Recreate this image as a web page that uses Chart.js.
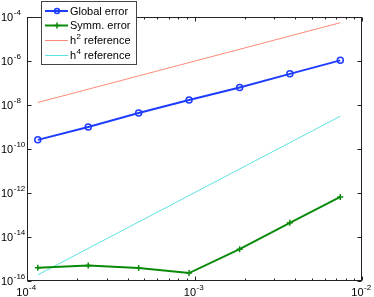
<!DOCTYPE html>
<html>
<head>
<meta charset="utf-8">
<script src="https://cdn.jsdelivr.net/npm/chart.js@4/dist/chart.umd.min.js"></script>
<style>
  html, body { margin: 0; padding: 0; background: #fff; }
  #wrap { width: 374px; height: 297px; position: relative; }
</style>
</head>
<body>
<div id="wrap"><canvas id="chart"></canvas></div>
<script>
// step sizes h and the measured errors (log-log)
const hValues = [1.16e-4, 2.32e-4, 4.64e-4, 9.28e-4, 1.86e-3, 3.71e-3, 7.42e-3];
const globalError = [2.6e-10, 1.0e-9, 4.3e-9, 1.7e-8, 6.3e-8, 2.6e-7, 1.07e-6];
const symmError = [4.0e-16, 5.0e-16, 3.9e-16, 2.3e-16, 2.8e-15, 4.4e-14, 6.6e-13];
// reference slopes, straight lines: only the two ends
const refH = [1.16e-4, 7.42e-3];
const h2Ref = [1.3e-8, 5.5e-5];
const h4Ref = [1.9e-16, 3.1e-9];

const xTickExp = [-4, -3, -2];
const yTickExp = [-4, -6, -8, -10, -12, -14, -16];
const legendItems = [
  { base: "Global error", sup: "", rest: "" },
  { base: "Symm. error", sup: "", rest: "" },
  { base: "h", sup: "2", rest: " reference" },
  { base: "h", sup: "4", rest: " reference" },
];

const FONT = "'Liberation Sans', Arial, Helvetica, sans-serif";
const pts = (xs, ys) => xs.map((x, i) => ({ x, y: ys[i] }));

// 10^n label: big "10" + small raised exponent
function powLabel(ctx, exp, x, y, align) {
  const e = "-" + Math.abs(exp);
  ctx.font = `11px ${FONT}`;
  const w1 = ctx.measureText("10").width;
  ctx.font = `8px ${FONT}`;
  const w2 = ctx.measureText(e).width;
  const x0 = align === "center" ? x - (w1 + w2) / 2 : x;
  ctx.textBaseline = "middle"; ctx.textAlign = "left";
  ctx.font = `11px ${FONT}`;
  ctx.fillText("10", x0, y);
  ctx.font = `8px ${FONT}`;
  ctx.fillText(e, x0 + w1 + 0.5, y - 5);
}

const axesBox = {
  id: "axesBox",
  afterDraw(chart) {
    const { ctx, chartArea: a, scales: { x, y } } = chart;
    ctx.save();
    ctx.strokeStyle = "#222"; ctx.lineWidth = 1;
    const L = Math.round(a.left) + 0.5, R = Math.round(a.right) - 0.5;
    const T = Math.round(a.top) + 0.5, B = Math.round(a.bottom) - 0.5;
    ctx.strokeRect(L, T, R - L, B - T);
    ctx.beginPath();
    // x ticks, major + minor, bottom and top, pointing inward
    for (let d = -4; d <= -2; d++) {
      for (let m = 1; m <= 9; m++) {
        if (d === -2 && m > 1) break;
        const px = Math.round(x.getPixelForValue(m * Math.pow(10, d))) + 0.5;
        const len = m === 1 ? 4 : 2;
        ctx.moveTo(px, B); ctx.lineTo(px, B - len);
        ctx.moveTo(px, T); ctx.lineTo(px, T + len);
      }
    }
    yTickExp.forEach((d) => {
      const py = Math.round(y.getPixelForValue(Math.pow(10, d))) + 0.5;
      ctx.moveTo(L, py); ctx.lineTo(L + 4, py);
      ctx.moveTo(R, py); ctx.lineTo(R - 4, py);
    });
    ctx.stroke();
    ctx.fillStyle = "#000";
    yTickExp.forEach((d) => powLabel(ctx, d, 1, y.getPixelForValue(Math.pow(10, d)) + 1, "left"));
    xTickExp.forEach((d) => powLabel(ctx, d, x.getPixelForValue(Math.pow(10, d)) - 1, B + 12, "center"));

    // legend box, top-left, overlapping the axes frame
    const bx = 41.5, by = 1.5, bw = 95, bh = 63;
    ctx.fillStyle = "#fff"; ctx.fillRect(bx, by, bw, bh);
    ctx.strokeStyle = "#444"; ctx.strokeRect(bx, by, bw, bh);
    const rows = [11, 25.5, 40.5, 55.5];
    chart.data.datasets.forEach((ds, i) => {
      const ry = rows[i];
      ctx.strokeStyle = ds.borderColor; ctx.lineWidth = ds.borderWidth;
      ctx.beginPath(); ctx.moveTo(45, ry); ctx.lineTo(68, ry); ctx.stroke();
      if (ds.pointStyle === "circle") {
        ctx.lineWidth = 1.5; ctx.beginPath(); ctx.arc(57, ry, 2.5, 0, Math.PI * 2); ctx.stroke();
      } else if (ds.pointStyle === "cross") {
        ctx.lineWidth = 1.5; ctx.beginPath();
        ctx.moveTo(54, ry); ctx.lineTo(60, ry); ctx.moveTo(57, ry - 3); ctx.lineTo(57, ry + 3); ctx.stroke();
      }
      const it = legendItems[i];
      ctx.fillStyle = "#000"; ctx.textBaseline = "middle"; ctx.textAlign = "left";
      ctx.font = `11px ${FONT}`;
      let tx = 70;
      ctx.fillText(it.base, tx, ry + 0.5);
      tx += ctx.measureText(it.base).width;
      if (it.sup) {
        ctx.font = `8px ${FONT}`;
        ctx.fillText(it.sup, tx + 0.5, ry - 4);
        tx += ctx.measureText(it.sup).width + 0.5;
        ctx.font = `11px ${FONT}`;
        ctx.fillText(it.rest, tx, ry + 0.5);
      }
    });
    ctx.restore();
  },
};

new Chart(document.getElementById("chart"), {
  type: "line",
  data: {
    datasets: [
      { label: "Global error", data: pts(hValues, globalError), borderColor: "#1e3cff",
        borderWidth: 2, pointStyle: "circle", pointRadius: 3, pointBorderWidth: 1.5,
        pointBackgroundColor: "rgba(0,0,0,0)", pointBorderColor: "#1e3cff" },
      { label: "Symm. error", data: pts(hValues, symmError), borderColor: "#0a8a0a",
        borderWidth: 2, pointStyle: "cross", pointRadius: 3, pointBorderWidth: 1.5,
        pointBorderColor: "#0a8a0a" },
      { label: "h2 reference", data: pts(refH, h2Ref), borderColor: "#ff8a78",
        borderWidth: 1, pointRadius: 0 },
      { label: "h4 reference", data: pts(refH, h4Ref), borderColor: "#5ee0e0",
        borderWidth: 1, pointRadius: 0 },
    ],
  },
  options: {
    responsive: true, maintainAspectRatio: false, animation: false,
    layout: { padding: { left: 27, right: 12, top: 17, bottom: 16 } },
    scales: {
      x: { type: "logarithmic", min: 1e-4, max: 1e-2, display: false },
      y: { type: "logarithmic", min: 1e-16, max: 1e-4, display: false },
    },
    plugins: { legend: { display: false }, tooltip: { enabled: false } },
    elements: { line: { tension: 0 } },
  },
  plugins: [axesBox],
});
</script>
</body>
</html>
